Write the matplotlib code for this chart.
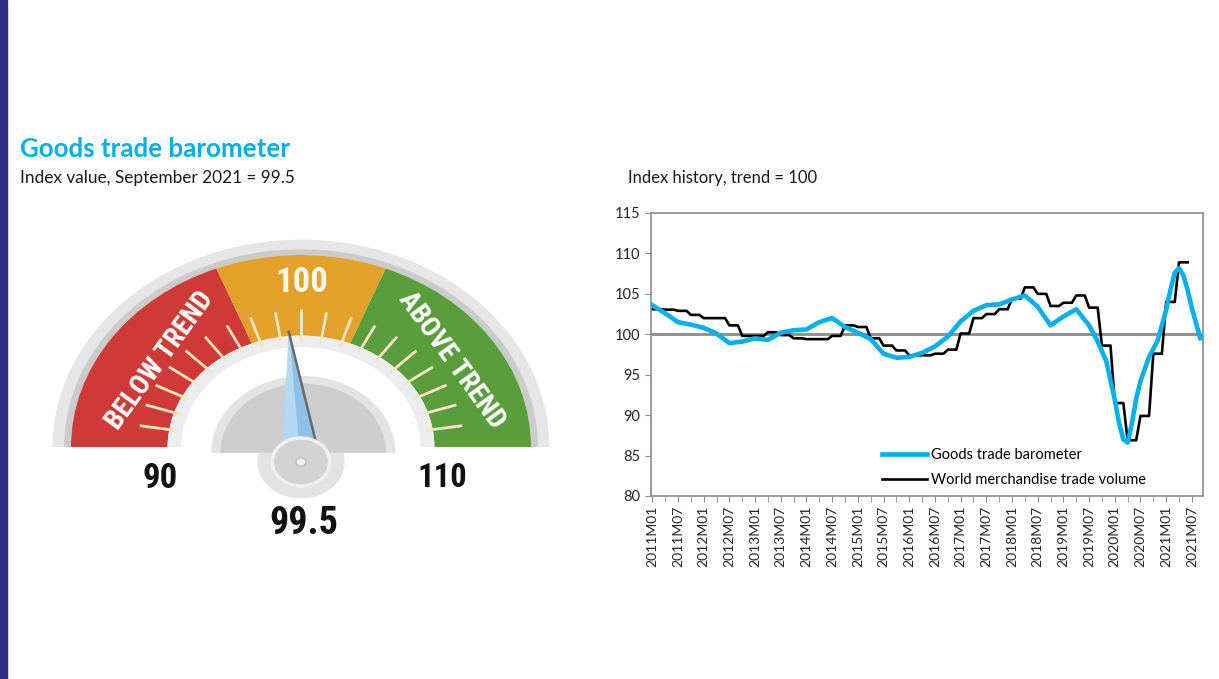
import numpy as np
import pandas as pd
import matplotlib
matplotlib.use("Agg")
import matplotlib.pyplot as plt
from matplotlib import font_manager as fm
from matplotlib.patches import Wedge, Circle, Polygon, Rectangle

# ---- data ----
gauge_value = 99.5
gauge_min, gauge_max = 90, 110
zone_edges = [90, 97.6, 102.4, 110]
zone_colors = ['#D03A36', '#E4A12A', '#5A9E3C']
gauge_ticks = list(range(91, 110))

baro_months = ['2011M01', '2011M04', '2011M07', '2011M10', '2012M01', '2012M04', '2012M07', '2012M10',
               '2013M01', '2013M04', '2013M07', '2013M10', '2014M01', '2014M04', '2014M07', '2014M10',
               '2015M01', '2015M04', '2015M07', '2015M10', '2016M01', '2016M04', '2016M07', '2016M10',
               '2017M01', '2017M04', '2017M07', '2017M10', '2018M01', '2018M04', '2018M07', '2018M10',
               '2019M01', '2019M04', '2019M07', '2019M09', '2019M11', '2020M01', '2020M02', '2020M03',
               '2020M04', '2020M05', '2020M06', '2020M07', '2020M09', '2020M11', '2021M01', '2021M02',
               '2021M03', '2021M04', '2021M05', '2021M06', '2021M07', '2021M08', '2021M09']
baro_values = [103.6, 102.6, 101.5, 101.2, 100.8, 100.1, 98.9, 99.1,
               99.5, 99.3, 100.2, 100.5, 100.6, 101.5, 102.0, 100.9,
               100.2, 99.4, 97.6, 97.1, 97.2, 97.7, 98.5, 99.7,
               101.6, 102.9, 103.6, 103.7, 104.3, 104.8, 103.4, 101.1,
               102.2, 103.1, 101.1, 99.1, 96.7, 91.9, 89.0, 87.0,
               86.6, 89.0, 92.0, 94.2, 97.2, 99.2, 103.0, 105.5,
               107.6, 108.2, 107.3, 105.5, 103.2, 101.3, 99.5]

# quarterly world merchandise trade volume, 2011Q1 .. 2021Q2
volume_values = [103.1, 103.05, 102.9, 102.4, 102.0, 102.0, 101.1, 99.8,
                 99.8, 100.25, 99.9, 99.5, 99.4, 99.4, 99.8, 101.1,
                 100.9, 99.5, 98.6, 98.0, 97.4, 97.4, 97.6, 98.1,
                 100.1, 102.0, 102.5, 103.1, 104.4, 105.8, 105.0, 103.5,
                 103.9, 104.8, 103.3, 98.6, 91.5, 86.9, 89.9, 97.6,
                 104.0, 108.9]

trend_level = 100
axis_end = '2021M09'


def month_index(s):
    return (int(s[:4]) - 2011) * 12 + int(s[5:]) - 1


# pick the narrowest bold face that is installed
def narrow_font():
    prefs = ['liberationsansnarrow-bold.', 'notosans-extracondensedbold', 'robotocondensed-bold',
             'notosans-condensedbold', 'opensans-condensedbold', 'opensans_condensed-bold',
             'notosans-semicondensedbold', 'dejavusanscondensed-bold']
    files = [f.fname for f in fm.fontManager.ttflist]
    for p in prefs:
        for f in files:
            if p in f.lower().replace(' ', ''):
                return fm.FontProperties(fname=f)
    for f in files:
        n = f.lower()
        if ('condensed' in n or 'narrow' in n) and 'bold' in n and 'italic' not in n \
                and 'oblique' not in n:
            return fm.FontProperties(fname=f)
    return fm.FontProperties(family='DejaVu Sans', weight='bold')


W, H = 1219, 679
fig = plt.figure(figsize=(W / 100, H / 100), dpi=100)
fig.patch.set_facecolor('white')

sans = ['Lato', 'DejaVu Sans']
nfp = narrow_font()


def nprop(size):
    p = nfp.copy()
    p.set_size(size)
    return p


# left navy bar
fig.patches.append(Rectangle((0, 0), 7 / W, 1, transform=fig.transFigure, color='#2A2D83'))

fig.text(20 / W, 1 - 149 / H, 'Goods trade barometer', color='#00AEEF', fontsize=18.6,
         fontweight='bold', family=sans, va='center', ha='left')
fig.text(20 / W, 1 - 178 / H, 'Index value, September 2021 = 99.5', color='#1a1a1a', fontsize=12.4,
         family=sans, va='center', ha='left')
fig.text(628 / W, 1 - 178 / H, 'Index history, trend = 100', color='#1a1a1a', fontsize=12,
         family=sans, va='center', ha='left')

# ---- gauge ----
cx, cy, rh, rv = 301, 447, 230, 192
gx0, gx1, gy0, gy1 = 0, 600, 200, 560
gax = fig.add_axes([gx0 / W, 1 - gy1 / H, (gx1 - gx0) / W, (gy1 - gy0) / H])
gax.set_xlim((gx0 - cx) / rh, (gx1 - cx) / rh)
gax.set_ylim((cy - gy1) / rv, (cy - gy0) / rv)
gax.set_aspect('auto')
gax.axis('off')


def ang(v):
    return 180 - (v - gauge_min) / (gauge_max - gauge_min) * 180


# rim
gax.add_patch(Wedge((0, 0), 1.08, 0, 180, width=0.08, fc='#E6E6E6', ec='none'))
gax.add_patch(Wedge((0, 0), 1.03, 0, 180, width=0.03, fc='#CBCBCB', ec='none'))
# coloured zones
for lo, hi, c in zip(zone_edges[:-1], zone_edges[1:], zone_colors):
    gax.add_patch(Wedge((0, 0), 1.0, ang(hi), ang(lo), width=0.42, fc=c, ec='none'))
# light inner ring
gax.add_patch(Wedge((0, 0), 0.58, 0, 180, width=0.06, fc='#EDEDED', ec='none'))
# ticks
for t in gauge_ticks:
    a = np.radians(ang(t))
    r_in, r_out = 0.55, 0.72 if t == 100 else 0.71
    gax.plot([r_in * np.cos(a), r_out * np.cos(a)], [r_in * np.sin(a), r_out * np.sin(a)],
             color='#F7E4C9', lw=2, solid_capstyle='butt', zorder=3)

# dome
hub = (0.0, -0.078)
gax.add_patch(Circle(hub, 0.19, fc='#E3E3E3', ec='none', zorder=4))
gax.add_patch(Wedge((0.01, -0.03), 0.40, 0, 180, fc='#E3E3E3', ec='none', zorder=4))
gax.add_patch(Wedge((0.01, -0.03), 0.36, 0, 180, fc='#CDCDCD', ec='none', zorder=4))

# needle
a = np.radians(ang(gauge_value))
L, hw = 0.68, 0.085
tip = (hub[0] + L * np.cos(a), hub[1] + L * np.sin(a))
px, py = -np.sin(a), np.cos(a)
left = (hub[0] + hw * px, hub[1] + hw * py)
right = (hub[0] - hw * px, hub[1] - hw * py)
gax.add_patch(Polygon([left, tip, hub], closed=True, fc='#B3DAF1', ec='none', zorder=5))
gax.add_patch(Polygon([hub, tip, right], closed=True, fc='#8CC0E6', ec='none', zorder=5))
gax.plot([tip[0], right[0]], [tip[1], right[1]], color='#6A6A6A', lw=1.8, zorder=5)

gax.add_patch(Circle(hub, 0.125, fc='#D2D2D2', ec='#EFEFEF', lw=2.5, zorder=6))
gax.add_patch(Circle(hub, 0.022, fc='#F2F2F2', ec='#C2C2C2', lw=1.2, zorder=7))

# gauge labels
gax.text((160 - cx) / rh, (cy - 478) / rv, f'{gauge_min}', fontproperties=nprop(25),
         ha='center', va='center', color='#111111')
gax.text((442 - cx) / rh, (cy - 478) / rv, f'{gauge_max}', fontproperties=nprop(23.5),
         ha='center', va='center', color='#111111')
gax.text((304 - cx) / rh, (cy - 524) / rv, f'{gauge_value}', fontproperties=nprop(27.5),
         ha='center', va='center', color='#111111')
gax.text((302 - cx) / rh, (cy - 282) / rv, f'{trend_level}', fontproperties=nprop(25),
         ha='center', va='center', color='#FFF8EE')
gax.text((160 - cx) / rh, (cy - 360) / rv, 'BELOW TREND', fontproperties=nprop(20),
         ha='center', va='center', color='white', rotation=54, zorder=3)
gax.text((452 - cx) / rh, (cy - 360) / rv, 'ABOVE TREND', fontproperties=nprop(20),
         ha='center', va='center', color='white', rotation=-54, zorder=3)

# ---- line chart ----
ax = fig.add_axes([651 / W, 1 - 496 / H, (1203 - 651) / W, (496 - 213) / H])
bm = np.array([month_index(s) for s in baro_months])
q = np.arange(len(volume_values))
vm = np.column_stack([3 * q, 3 * q + 2]).ravel()
vv = np.repeat(volume_values, 2)

ax.axhline(trend_level, color='#8C8C8C', lw=2, zorder=1)
ax.plot(vm, vv, color='black', lw=1.9, label='World merchandise trade volume', zorder=2)
ax.plot(bm, baro_values, color='#00B0F0', lw=3.3, label='Goods trade barometer', zorder=3,
        solid_joinstyle='round')

ax.set_ylim(80, 115)
ax.set_yticks(range(80, 116, 5))
ax.set_xlim(-0.3, month_index(axis_end) + 0.6)
lab_m = list(range(0, month_index(axis_end) + 1, 6))
ax.set_xticks(lab_m)
ax.set_xticklabels([f'{2011 + m // 12}M{m % 12 + 1:02d}' for m in lab_m], rotation=90,
                   fontsize=10, family=sans, color='#262626')
ax.set_xticks(range(0, month_index(axis_end) + 1, 3), minor=True)
for lab in ax.get_yticklabels():
    lab.set_family(sans)
    lab.set_fontsize(10.5)
    lab.set_color('#262626')
for s in ax.spines.values():
    s.set_color('#8C8C8C')
    s.set_linewidth(1.2)
ax.tick_params(axis='x', which='both', length=4, color='#8C8C8C', pad=3)
ax.tick_params(axis='y', length=4, color='#8C8C8C', pad=4)

h, l = ax.get_legend_handles_labels()
ax.legend(h[::-1], l[::-1], loc='lower left', bbox_to_anchor=(0.395, -0.016), frameon=False,
          prop={'family': sans, 'size': 10.5}, handlelength=3.1, handletextpad=0.25,
          labelspacing=0.8)

fig.savefig('out.png', dpi=100, facecolor='white')
